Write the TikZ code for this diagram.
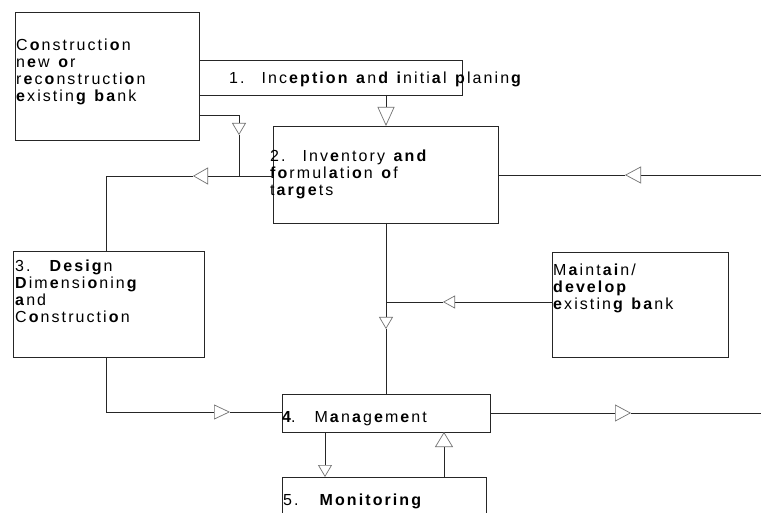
\documentclass[tikz,border=0pt]{standalone}
\usepackage{fontspec}
\setmainfont{Liberation Sans}[LetterSpace=13]
\usetikzlibrary{arrows.meta}
\newcommand\bld[1]{\textbf{#1}}
\begin{document}
\begin{tikzpicture}[x=1pt,y=-1pt,
  box/.style={draw=black!85, line width=0.9pt, fill=white, inner sep=0pt, outer sep=0pt, anchor=north west},
  txt/.style={inner sep=0pt, anchor=north west, align=left, font=\fontsize{16}{17.3}\selectfont},
  ln/.style={draw=black!85, line width=0.9pt},
  otri/.style 2 args={ln, -{Triangle[length=#1pt, width=#2pt, line width=0.7pt, color=black!55, fill=white]}}
]
\useasboundingbox (0,0) rectangle (761,513);
\clip (0,0) rectangle (761,513);

% boxes
\node[box, minimum width=263pt, minimum height=35pt] (B1) at (199,60) {};
\node[box, minimum width=184pt, minimum height=128pt] (A) at (15,12) {};
\node[box, minimum width=225pt, minimum height=97pt] (B2) at (273,126) {};
\node[box, minimum width=191pt, minimum height=106pt] (B3) at (13,251) {};
\node[box, minimum width=176pt, minimum height=105pt] (M) at (552,252) {};
\node[box, minimum width=208pt, minimum height=38pt] (B4) at (282,394) {};
\node[box, minimum width=204pt, minimum height=60pt] (B5) at (282,477) {};

% texts (top = first baseline - 11.7)
\node[txt] (tA) at (16,38.3) {C\bld{o}nstructi\bld{o}n\\n\bld{e}w \bld{o}r\\r\bld{e}c\bld{o}nstructi\bld{o}n\\\bld{e}xistin\bld{g} \bld{ba}nk};
\node[txt] (t1) at (229,71.3) {1.\hspace{17pt}Inc\bld{eption} \bld{a}n\bld{d} \bld{i}niti\bld{a}l \bld{p}lanin\bld{g}};
\node[txt] (t2) at (270,149.3) {2.\hspace{17pt}Inv\bld{e}ntory \bld{and}\\\bld{fo}rmul\bld{a}ti\bld{o}n \bld{o}f\\t\bld{arge}ts};
\node[txt] (t3) at (15,259.3) {3.\hspace{17pt}\bld{Desig}n\\\bld{D}im\bld{e}nsi\bld{o}nin\bld{g}\\\bld{a}nd\\C\bld{o}nstructi\bld{o}n};
\node[txt] (tM) at (553,263.3) {M\bld{a}int\bld{ai}n/\\\bld{develop}\\\bld{e}xistin\bld{g} \bld{ba}nk};
\node[txt] (t4) at (282,411.3) {\bld{4}.\hspace{19pt}M\bld{a}n\bld{a}g\bld{e}m\bld{e}nt};
\node[txt] (t5) at (283,493.3) {5.\hspace{19pt}\bld{Monitoring}};

% coordinates
\coordinate (t2c) at (239,135);
\coordinate (j2) at (239,176);
\coordinate (t3c) at (193,176);
\coordinate (t4c) at (230,412);
\coordinate (t5c) at (386,329);
\coordinate (t6c) at (443,302);
\coordinate (j6) at (386,302);
\coordinate (e7) at (761,175);
\coordinate (t7c) at (625,175);
\coordinate (t8c) at (631,413);
\coordinate (e8) at (761,413);

% connectors
\draw[otri={19}{17}] (B1.south -| 386,0) -- (B2.north -| 386,0);
\draw[otri={12}{14}] (A.east |- 0,115) -| (t2c);
\draw[ln] (t2c) -- (j2);
\draw[otri={15}{17}] (B2.west |- j2) -- (t3c);
\draw[ln] (t3c) -| (B3.north -| 106,0);
\draw[otri={16}{15}] (B3.south -| 106,0) |- (t4c);
\draw[ln] (t4c) -- (B4.west |- t4c);
\draw[otri={12}{14}] (B2.south -| t5c) -- (t5c);
\draw[ln] (t5c) -- (B4.north -| t5c);
\draw[otri={12}{13}] (M.west |- t6c) -- (t6c);
\draw[ln] (t6c) -- (j6);
\draw[otri={16}{17}] (e7) -- (t7c);
\draw[ln] (t7c) -- (B2.east |- t7c);
\draw[otri={16}{17}] (B4.east |- t8c) -- (t8c);
\draw[ln] (t8c) -- (e8);
\draw[otri={12}{14}] (B4.south -| 325,0) -- (B5.north -| 325,0);
\draw[otri={15}{18}] (B5.north -| 444,0) -- (B4.south -| 444,0);
\end{tikzpicture}
\end{document}
